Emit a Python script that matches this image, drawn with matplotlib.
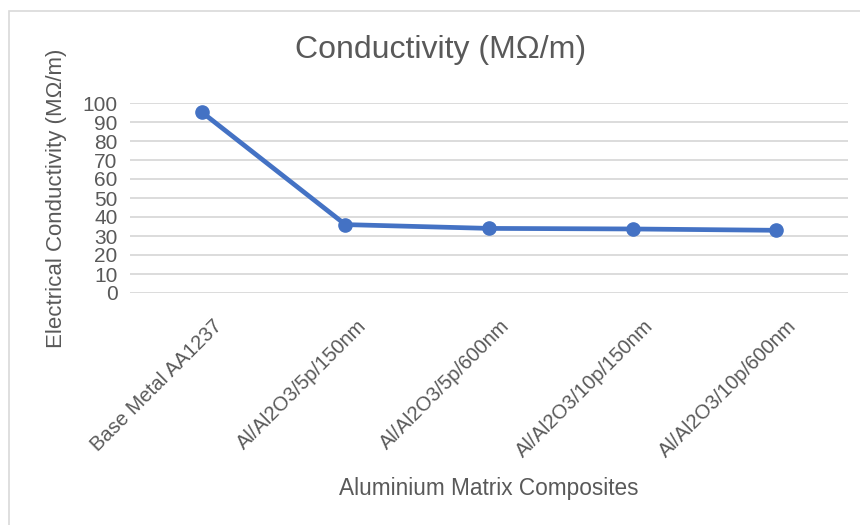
import matplotlib.pyplot as plt
import matplotlib.transforms as mtransforms
from matplotlib.patches import Rectangle

# Data
categories = ["Base Metal AA1237", "Al/Al2O3/5p/150nm", "Al/Al2O3/5p/600nm",
              "Al/Al2O3/10p/150nm", "Al/Al2O3/10p/600nm"]
conductivity = [95.2, 36.0, 34.0, 33.7, 33.0]
y_ticks = [0, 10, 20, 30, 40, 50, 60, 70, 80, 90, 100]

text_color = '#595959'
line_color = '#4472C4'
grid_color = '#d9d9d9'

plt.rcParams['font.family'] = ['Liberation Sans', 'DejaVu Sans']

fig = plt.figure(figsize=(8.6, 5.25), dpi=100)
ax = fig.add_axes([130 / 860, 1 - 293 / 525, 718 / 860, 190 / 525])

# chart border
fig.patches.append(Rectangle((9 / 860, -0.05), 1.05, 1 - 11 / 525 + 0.05,
                             transform=fig.transFigure, fill=False,
                             edgecolor=grid_color, linewidth=1.2))

x = list(range(len(categories)))
ax.plot(x, conductivity, color=line_color, linewidth=3.4, marker='o',
        markersize=9.5, clip_on=False, zorder=3)

ax.set_xlim(-0.5, len(categories) - 0.5)
ax.set_ylim(0, 100)
ax.set_yticks(y_ticks)
ax.yaxis.grid(True, color=grid_color, linewidth=1.3)
ax.set_axisbelow(True)
for s in ax.spines.values():
    s.set_visible(False)

ax.tick_params(axis='y', length=0, pad=9, labelsize=15, labelcolor=text_color)
ax.tick_params(axis='x', length=0, pad=16.5, labelsize=14.5, labelcolor=text_color)
ax.set_xticks(x)
ax.set_xticklabels(categories, rotation=45, ha='right', va='top',
                   rotation_mode='anchor')
offset = mtransforms.ScaledTranslation(11 / 100, 0, fig.dpi_scale_trans)
for lbl in ax.get_xticklabels():
    lbl.set_transform(lbl.get_transform() + offset)

fig.text(441 / 860, 1 - 50 / 525, "Conductivity (MΩ/m)", ha='center',
         va='center', fontsize=23, color=text_color)
fig.text(489 / 860, 1 - 488 / 525, "Aluminium Matrix Composites", ha='center',
         va='center', fontsize=16.3, color=text_color)
fig.text(57 / 860, 1 - 198 / 525, "Electrical Conductivity (MΩ/m)", ha='center',
         va='center', rotation=90, fontsize=16, color=text_color)

fig.savefig("out.png", dpi=100, facecolor='white')
